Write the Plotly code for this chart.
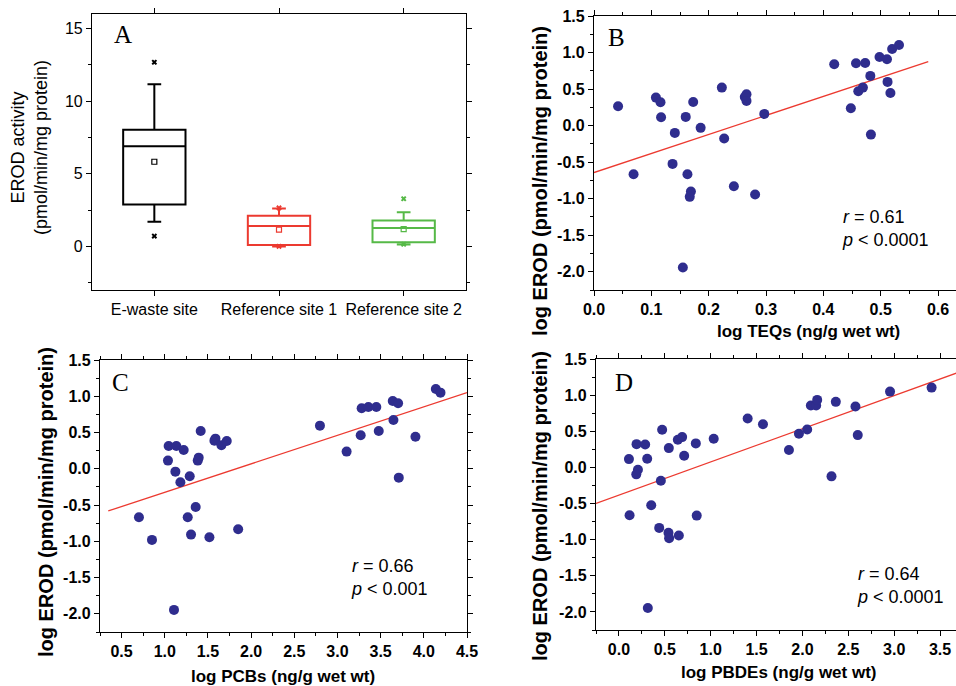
import plotly.graph_objects as go

# ---------------- Panel A data (box plot summary) ----------------
sites = ["E-waste site", "Reference site 1", "Reference site 2"]
site_pos = [0, 1, 2]
box_q1 = [2.89, 0.09, 0.28]
box_median = [6.90, 1.40, 1.26]
box_q3 = [8.03, 2.11, 1.79]
box_lower = [1.70, 0.00, 0.14]
box_upper = [11.17, 2.61, 2.36]
box_mean = [5.83, 1.15, 1.19]
box_out_hi = [12.68, 2.65, 3.28]
box_out_lo = [0.71, 0.00, 0.15]
box_colors = ["#000000", "#ec3a30", "#56b947"]

# ---------------- Panel B data ----------------
teq_x = [0.042, 0.069, 0.108, 0.116, 0.117, 0.141, 0.137, 0.160, 0.173, 0.186,
         0.163, 0.169, 0.167, 0.155, 0.223, 0.227, 0.244, 0.263, 0.266, 0.266,
         0.281, 0.297, 0.419, 0.457, 0.473, 0.448, 0.461, 0.469, 0.482, 0.483,
         0.498, 0.511, 0.512, 0.517, 0.520, 0.532]
teq_y = [0.265, -0.665, 0.383, 0.320, 0.114, -0.100, -0.524, 0.119, 0.324, -0.031,
         -0.665, -0.902, -0.975, -1.941, 0.520, -0.177, -0.829, 0.392, 0.429, 0.338,
         -0.943, 0.160, 0.839, 0.853, 0.857, 0.237, 0.470, 0.520, 0.680, -0.123,
         0.939, 0.907, 0.598, 0.447, 1.049, 1.103]
teq_fit_x = [0.0, 0.583]
teq_fit_y = [-0.642, 0.875]

# ---------------- Panel C data ----------------
pcb_x = [0.701, 0.852, 1.037, 1.045, 1.134, 1.123, 1.181, 1.219, 1.289, 1.266,
         1.304, 1.107, 1.358, 1.382, 1.393, 1.416, 1.517, 1.587, 1.575, 1.656,
         1.718, 1.850, 2.797, 3.106, 3.269, 3.280, 3.358, 3.450, 3.478, 3.640,
         3.702, 3.648, 3.710, 3.903, 4.139, 4.193]
pcb_y = [-0.668, -0.980, 0.113, 0.315, 0.315, -0.039, -0.186, 0.260, -0.103, -0.668,
         -0.907, -1.945, -0.526, 0.113, 0.154, 0.522, -0.944, 0.416, 0.388, 0.324,
         0.384, -0.834, 0.595, 0.237, 0.462, 0.834, 0.852, 0.852, 0.522, 0.935,
         0.903, 0.673, -0.122, 0.443, 1.100, 1.050]
pcb_fit_x = [0.346, 4.5]
pcb_fit_y = [-0.581, 1.050]

# ---------------- Panel D data ----------------
pbde_x = [0.109, 0.116, 0.192, 0.207, 0.189, 0.286, 0.308, 0.315, 0.352, 0.439,
          0.457, 0.471, 0.544, 0.540, 0.547, 0.642, 0.689, 0.653, 0.711, 0.838,
          0.848, 1.033, 1.403, 1.570, 1.853, 1.962, 2.052, 2.092, 2.150, 2.161,
          2.317, 2.364, 2.578, 2.603, 2.955, 3.408]
pbde_y = [0.115, -0.662, 0.322, -0.032, -0.096, 0.318, 0.120, -1.945, -0.524, -0.837,
          -0.184, 0.520, 0.267, -0.906, -0.979, 0.382, 0.419, -0.942, 0.161, 0.332,
          -0.667, 0.396, 0.677, 0.598, 0.240, 0.465, 0.525, 0.856, 0.856, 0.934,
          -0.124, 0.907, 0.842, 0.447, 1.049, 1.104]
pbde_fit_x = [-0.25, 3.8]
pbde_fit_y = [-0.498, 1.361]

# ---------------- tick labels ----------------
a_y_ticks = [0, 5, 10, 15]
a_y_ticktext = ["0", "5", "10", "15"]
log_y_ticks = [-2.0, -1.5, -1.0, -0.5, 0.0, 0.5, 1.0, 1.5]
log_y_ticktext = ["-2.0", "-1.5", "-1.0", "-0.5", "0.0", "0.5", "1.0", "1.5"]
teq_ticks = [0.0, 0.1, 0.2, 0.3, 0.4, 0.5, 0.6]
teq_ticktext = ["0.0", "0.1", "0.2", "0.3", "0.4", "0.5", "0.6"]
pcb_ticks = [0.5, 1.0, 1.5, 2.0, 2.5, 3.0, 3.5, 4.0, 4.5]
pcb_ticktext = ["0.5", "1.0", "1.5", "2.0", "2.5", "3.0", "3.5", "4.0", "4.5"]
pbde_ticks = [0.0, 0.5, 1.0, 1.5, 2.0, 2.5, 3.0, 3.5]
pbde_ticktext = ["0.0", "0.5", "1.0", "1.5", "2.0", "2.5", "3.0", "3.5"]

# ---------------- layout helpers ----------------
W, H = 956, 686


def px(x):
    return x / W


def py(y):
    return 1 - y / H


DOT = "#2f2d8e"
RED = "#ec3a30"
FONT = "Liberation Sans"

fig = go.Figure()

# Panel A boxes
for i in range(3):
    c = box_colors[i]
    fig.add_trace(go.Box(
        x=[site_pos[i]], q1=[box_q1[i]], median=[box_median[i]], q3=[box_q3[i]],
        lowerfence=[box_lower[i]], upperfence=[box_upper[i]],
        width=0.5, whiskerwidth=0.22, boxpoints=False,
        line=dict(color=c, width=2), fillcolor="rgba(0,0,0,0)",
        xaxis="x", yaxis="y", hoverinfo="skip"))
    fig.add_trace(go.Scatter(
        x=[site_pos[i]], y=[box_mean[i]], mode="markers",
        marker=dict(symbol="square-open", size=5, color=c, line=dict(width=1.2, color=c)),
        xaxis="x", yaxis="y"))
    fig.add_trace(go.Scatter(
        x=[site_pos[i], site_pos[i]], y=[box_out_hi[i], box_out_lo[i]], mode="markers",
        marker=dict(symbol="x", size=5, color=c, line=dict(width=0)),
        xaxis="x", yaxis="y"))

# Scatter panels
for xs, ys, fx, fy, ax in [(teq_x, teq_y, teq_fit_x, teq_fit_y, "2"),
                           (pcb_x, pcb_y, pcb_fit_x, pcb_fit_y, "3"),
                           (pbde_x, pbde_y, pbde_fit_x, pbde_fit_y, "4")]:
    fig.add_trace(go.Scatter(x=fx, y=fy, mode="lines",
                             line=dict(color=RED, width=1.3),
                             xaxis="x" + ax, yaxis="y" + ax))
    fig.add_trace(go.Scatter(x=xs, y=ys, mode="markers",
                             marker=dict(size=10, color=DOT, line=dict(width=0)),
                             xaxis="x" + ax, yaxis="y" + ax))

axis_common = dict(showgrid=False, zeroline=False, showline=True, linecolor="black",
                   linewidth=1.2, ticks="outside", ticklen=5, tickwidth=1,
                   tickcolor="black", automargin=False, tickangle=0)
bold_tick = dict(family=FONT, size=16, color="black", weight="bold")

fig.update_layout(
    width=W, height=H, margin=dict(l=0, r=0, t=0, b=0, autoexpand=False),
    paper_bgcolor="white", plot_bgcolor="white", showlegend=False,
    font=dict(family=FONT, color="black"),
    xaxis=dict(**axis_common, domain=[px(92), px(466)], range=[-0.5, 2.5],
               tickmode="array", tickvals=site_pos, ticktext=sites, mirror="ticks",
               tickfont=dict(family=FONT, size=16, color="black"), anchor="y"),
    yaxis=dict(**axis_common, domain=[py(290), py(14)], range=[-3, 16],
               tickmode="array", tickvals=a_y_ticks, ticktext=a_y_ticktext,
               mirror="allticks",
               minor=dict(tick0=0, dtick=2.5, ticks="outside", ticklen=3, tickcolor="black"),
               tickfont=dict(family=FONT, size=16, color="black"), anchor="x"),
    xaxis2=dict(**axis_common, domain=[px(594), 1.0], range=[0, 0.6314],
                tickmode="array", tickvals=teq_ticks, ticktext=teq_ticktext, mirror="allticks",
                minor=dict(tick0=0, dtick=0.05, ticks="outside", ticklen=3, tickcolor="black"),
                tickfont=bold_tick, anchor="y2"),
    yaxis2=dict(**axis_common, domain=[py(290), py(16)], range=[-2.25, 1.5],
                tickmode="array", tickvals=log_y_ticks, ticktext=log_y_ticktext,
                minor=dict(tick0=0, dtick=0.25, ticks="outside", ticklen=3, tickcolor="black"),
                tickfont=bold_tick, anchor="x2"),
    xaxis3=dict(**axis_common, domain=[px(100), px(467)], range=[0.25, 4.5],
                tickmode="array", tickvals=pcb_ticks, ticktext=pcb_ticktext, mirror="allticks",
                minor=dict(tick0=0, dtick=0.25, ticks="outside", ticklen=3, tickcolor="black"),
                tickfont=bold_tick, anchor="y3"),
    yaxis3=dict(**axis_common, domain=[py(632), py(360)], range=[-2.25, 1.5],
                tickmode="array", tickvals=log_y_ticks, ticktext=log_y_ticktext,
                mirror="allticks",
                minor=dict(tick0=0, dtick=0.25, ticks="outside", ticklen=3, tickcolor="black"),
                tickfont=bold_tick, anchor="x3"),
    xaxis4=dict(**axis_common, domain=[px(596), 1.0], range=[-0.25, 3.674],
                tickmode="array", tickvals=pbde_ticks, ticktext=pbde_ticktext, mirror="allticks",
                minor=dict(tick0=0, dtick=0.25, ticks="outside", ticklen=3, tickcolor="black"),
                tickfont=bold_tick, anchor="y4"),
    yaxis4=dict(**axis_common, domain=[py(630), py(359)], range=[-2.25, 1.5],
                tickmode="array", tickvals=log_y_ticks, ticktext=log_y_ticktext,
                minor=dict(tick0=0, dtick=0.25, ticks="outside", ticklen=3, tickcolor="black"),
                tickfont=bold_tick, anchor="x4"),
)

ann = []
# Panel letters
for letter, x, y in [("A", 123, 34), ("B", 616, 37), ("C", 120, 382), ("D", 624, 382)]:
    ann.append(dict(text=letter, x=px(x), y=py(y), xref="paper", yref="paper",
                    xanchor="center", yanchor="middle", showarrow=False,
                    font=dict(family="Liberation Serif", size=25, color="black")))
# Axis titles
ann.append(dict(text="EROD activity<br>(pmol/min/mg protein)", x=px(30), y=py(148),
                xref="paper", yref="paper", textangle=-90, showarrow=False,
                xanchor="center", yanchor="middle",
                font=dict(family=FONT, size=18, color="black")))
ylab = "log EROD (pmol/min/mg protein)"
for x, y in [(540, 181), (46, 502), (540, 506)]:
    ann.append(dict(text=ylab, x=px(x), y=py(y), xref="paper", yref="paper",
                    textangle=-90, showarrow=False, xanchor="center", yanchor="middle",
                    font=dict(family=FONT, size=20, color="black", weight="bold")))
for t, x, y in [("log TEQs (ng/g wet wt)", 808, 331), ("log PCBs (ng/g wet wt)", 283, 676),
                ("log PBDEs (ng/g wet wt)", 779, 672)]:
    ann.append(dict(text=t, x=px(x), y=py(y), xref="paper", yref="paper",
                    showarrow=False, xanchor="center", yanchor="middle",
                    font=dict(family=FONT, size=17, color="black", weight="bold")))
# Statistics
for r, p, x, y in [("0.61", "0.0001", 840, 228), ("0.66", "0.001", 349, 577),
                   ("0.64", "0.0001", 855, 585)]:
    ann.append(dict(text=f"<i>r</i> = {r}<br><i>p</i> &lt; {p}", x=px(x), y=py(y),
                    xref="paper", yref="paper", showarrow=False, align="left",
                    xanchor="left", yanchor="middle",
                    font=dict(family=FONT, size=18, color="black")))
fig.update_layout(annotations=ann)

fig.write_html("out.html", config={"displayModeBar": False},
               post_script="document.body.style.margin='0';"
                           "document.body.style.overflow='hidden';")
